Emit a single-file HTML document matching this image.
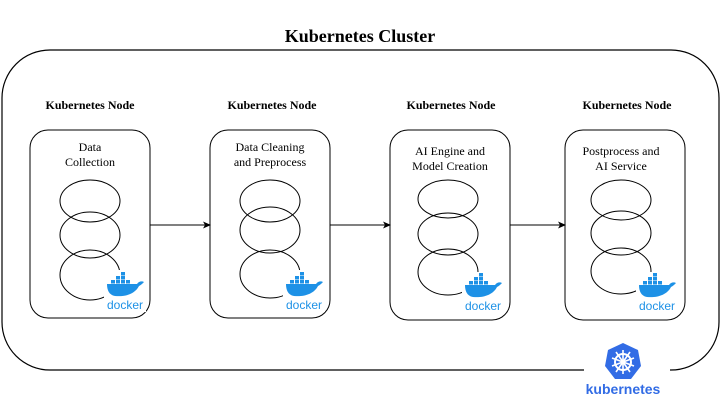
<!DOCTYPE html>
<html><head><style>
html,body{margin:0;padding:0;background:#fff;width:721px;height:406px;overflow:hidden}
svg{display:block}
text{font-family:"Liberation Serif",serif}
</style></head><body>
<svg width="721" height="406" viewBox="0 0 721 406" xmlns="http://www.w3.org/2000/svg">
<defs>
<marker id="ar" markerWidth="8" markerHeight="8" refX="7" refY="4" orient="auto" markerUnits="userSpaceOnUse">
<path d="M0,0.5 L8,4 L0,7.5 L2,4 Z" fill="#000"/>
</marker>
<g id="dock">
<rect x="10" y="2" width="4" height="3.5" fill="#1d91e6"/>
<rect x="5" y="6" width="4" height="3.5" fill="#1d91e6"/>
<rect x="10" y="6" width="4" height="3.5" fill="#1d91e6"/>
<rect x="0" y="10" width="4" height="3.5" fill="#1d91e6"/>
<rect x="5" y="10" width="4" height="3.5" fill="#1d91e6"/>
<rect x="10" y="10" width="4" height="3.5" fill="#1d91e6"/>
<rect x="15" y="10" width="4" height="3.5" fill="#1d91e6"/>
<path d="M-4,14 L26,14 C28,11 31,11 33,12 C31,14 30,15 28,16 C24,24 14,27 4,26 C-2,25 -4,20 -4,14 Z" fill="#1d91e6"/>
<text x="14" y="39" text-anchor="middle" font-size="12" fill="#1d91e6" style="font-family:'Liberation Sans',sans-serif">docker</text>
</g>
</defs>
<text x="360" y="42" text-anchor="middle" font-size="18" font-weight="bold">Kubernetes Cluster</text>
<rect x="2" y="50" width="717" height="320" rx="48" ry="48" fill="none" stroke="#000" stroke-width="1.2"/>
<rect x="584" y="360" width="86" height="20" fill="#fff"/>

<g font-size="12" font-weight="bold" text-anchor="middle">
<text x="90" y="109">Kubernetes Node</text>
<text x="272" y="109">Kubernetes Node</text>
<text x="451" y="109">Kubernetes Node</text>
<text x="627" y="109">Kubernetes Node</text>
</g>

<g fill="#fff" stroke="#000" stroke-width="1">
<rect x="30" y="130" width="120" height="188" rx="18"/>
<rect x="210" y="130" width="120" height="188" rx="18"/>
<rect x="390" y="130" width="120" height="190" rx="18"/>
<rect x="565" y="130" width="120" height="190" rx="18"/>
</g>

<g font-size="12" text-anchor="middle">
<text x="90" y="151">Data</text><text x="90" y="166">Collection</text>
<text x="270" y="151">Data Cleaning</text><text x="270" y="166">and Preprocess</text>
<text x="450" y="155">AI Engine and</text><text x="450" y="170">Model Creation</text>
<text x="621" y="155">Postprocess and</text><text x="621" y="170">AI Service</text>
</g>

<g fill="none" stroke="#000" stroke-width="1">
<ellipse cx="90" cy="201" rx="30" ry="21"/><ellipse cx="90" cy="235" rx="30" ry="23"/><ellipse cx="90" cy="275" rx="30" ry="25"/>
<ellipse cx="270" cy="201" rx="30" ry="21"/><ellipse cx="270" cy="230" rx="30" ry="23"/><ellipse cx="270" cy="274" rx="30" ry="24"/>
<ellipse cx="448" cy="199" rx="30" ry="19"/><ellipse cx="448" cy="234" rx="30" ry="21"/><ellipse cx="448" cy="272" rx="30" ry="23"/>
<ellipse cx="621" cy="200" rx="30" ry="20"/><ellipse cx="621" cy="233" rx="30" ry="22"/><ellipse cx="621" cy="271" rx="30" ry="23"/>
</g>

<g fill="#fff" stroke="none">
<rect x="104" y="270" width="42" height="42"/>
<rect x="283" y="270" width="42" height="42"/>
<rect x="462" y="272" width="42" height="42"/>
<rect x="636" y="272" width="42" height="42"/>
</g>
<use href="#dock" x="111" y="270"/>
<use href="#dock" x="290" y="270"/>
<use href="#dock" x="469" y="271"/>
<use href="#dock" x="643" y="271"/>

<g stroke="#000" stroke-width="1" marker-end="url(#ar)">
<line x1="150" y1="225" x2="210" y2="225"/>
<line x1="330" y1="225" x2="390" y2="225"/>
<line x1="510" y1="225" x2="565" y2="225"/>
</g>

<g transform="translate(623,362)">
<polygon points="0,-19 15,-12 18,4 8,17 -8,17 -18,4 -15,-12" fill="#326ce5"/>
<circle r="8" fill="none" stroke="#fff" stroke-width="2"/>
<circle r="2.5" fill="#fff"/>
<g stroke="#fff" stroke-width="1.6">
<line x1="0" y1="-12" x2="0" y2="12"/><line x1="-11" y1="-4" x2="11" y2="4"/><line x1="-11" y1="4" x2="11" y2="-4"/>
<line x1="-7" y1="-10" x2="7" y2="10"/><line x1="7" y1="-10" x2="-7" y2="10"/>
</g>
</g>
<text x="623" y="394" text-anchor="middle" font-size="14" font-weight="bold" fill="#326ce5" style="font-family:'Liberation Sans',sans-serif">kubernetes</text>
</svg>
</body></html>
